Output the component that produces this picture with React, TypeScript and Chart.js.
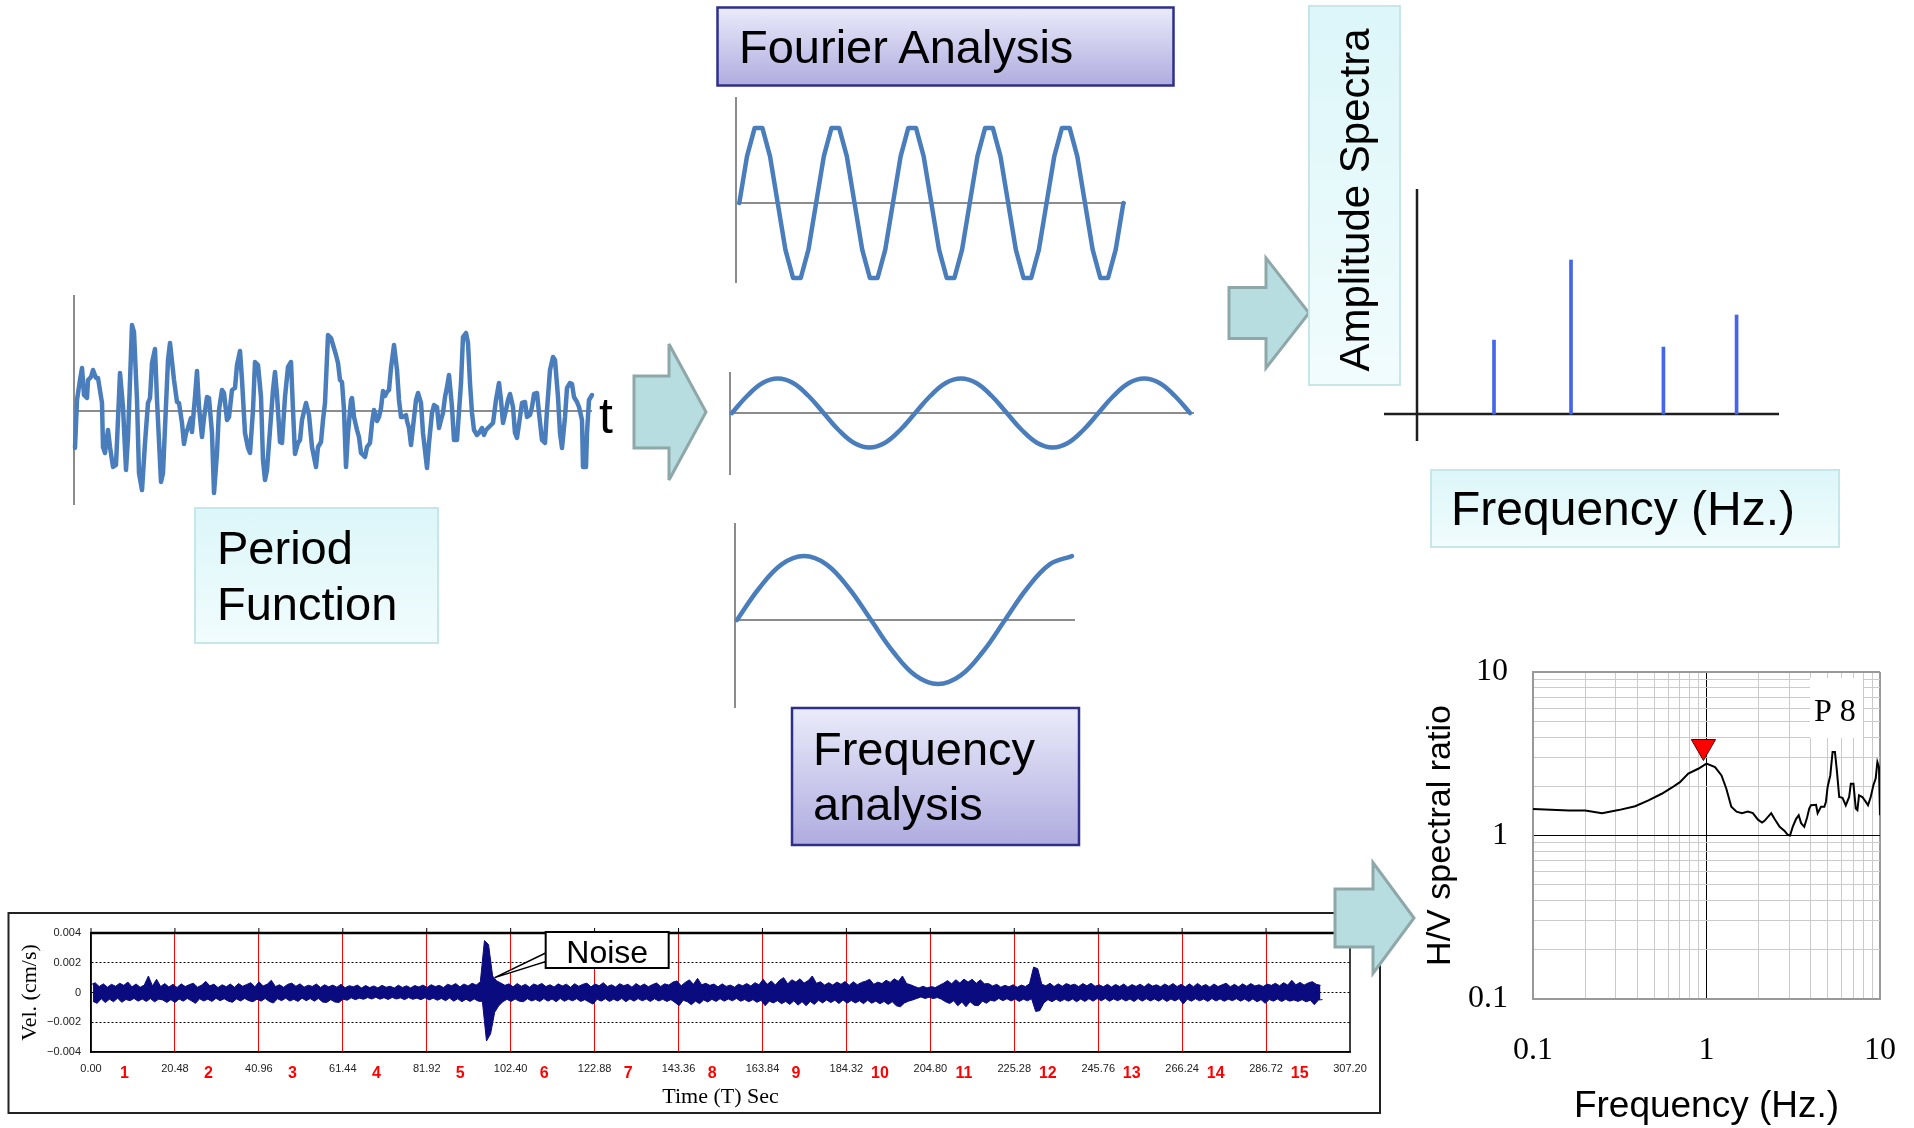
import React, { useEffect, useRef } from "react";
import { Chart, registerables } from "chart.js";

Chart.register(...registerables);

const SANS = "'Liberation Sans', Arial, Helvetica, sans-serif";
const SERIF = "'Liberation Serif', 'Times New Roman', Times, serif";
const WAVE_BLUE = "#4a7dbb";
const AXIS_GRAY = "#8c8c8c";
const SPEC_BLUE = "#4466ea";
const NAVY = "#0b0b80";

// ---------- irregular "period function" record ----------
const periodTime = [
  1, 3, 6, 8, 10, 13, 14, 17, 19, 22, 24, 28, 29, 31, 34, 36, 39, 42, 46, 49,
  52, 54, 58, 60, 63, 65, 68, 71, 74, 76, 78, 81, 83, 87, 89, 94, 96, 100, 103, 105,
  108, 110, 112, 114, 117, 118, 121, 123, 125, 128, 130, 133, 135, 138, 140, 143, 145, 148, 150, 153,
  155, 158, 161, 163, 166, 168, 171, 174, 176, 179, 181, 184, 187, 189, 191, 193, 196, 199, 201, 203,
  206, 208, 211, 214, 217, 219, 221, 224, 226, 228, 232, 235, 238, 242, 244, 247, 249, 251, 254, 257,
  262, 264, 266, 268, 270, 272, 274, 277, 278, 280, 283, 285, 287, 289, 291, 293, 296, 298, 300, 303,
  305, 307, 309, 311, 313, 315, 317, 320, 323, 325, 327, 329, 332, 333, 335, 337, 339, 342, 344, 347,
  349, 353, 355, 358, 360, 363, 365, 367, 369, 371, 373, 375, 378, 380, 383, 387, 389, 392, 394, 396,
  398, 400, 403, 405, 408, 410, 412, 414, 417, 419, 422, 425, 427, 429, 432, 434, 436, 439, 441, 443,
  446, 448, 451, 453, 456, 458, 460, 463, 465, 468, 471, 473, 476, 479, 481, 484, 486, 488, 491, 493,
  496, 498, 500, 503, 505, 508, 509, 512, 513, 515, 518,
];
const periodAmp = [
  -37, 11, 31, 43, 16, 13, 31, 34, 41, 33, 33, 8, -36, -42, -19, -36, -56, -54, 38, 4,
  -59, -26, 86, 79, 11, -62, -79, -32, 8, 13, 48, 62, 11, -71, -62, 51, 68, 31, 9, 8,
  -12, -33, -22, -17, -7, -21, 14, 40, 4, -26, -7, 14, 13, -22, -82, -42, 1, 21, 18, -9,
  -6, 21, 23, 46, 60, 31, -22, -37, -42, 1, 49, 46, 14, -49, -69, -59, -19, 21, 39, 16,
  -31, -32, 14, 44, 49, 1, -43, -32, -29, -9, 8, -4, -36, -56, -36, -31, -9, 8, 76, 73,
  56, 48, 31, 29, 1, -56, -22, 11, 13, -6, -19, -26, -42, -44, -46, -36, -32, -12, 1, -10,
  -6, 3, 20, 15, 19, 21, 43, 66, 41, 11, -6, -6, -4, -10, -17, -34, -16, 11, 18, 8,
  -22, -57, -32, -2, 6, 4, -17, -9, -2, 14, 24, 36, 4, -29, -29, 28, 74, 78, 68, 28,
  -2, -19, -24, -22, -17, -24, -19, -17, -14, -12, 11, 28, 11, -12, 1, 11, 17, 4, -22, -27,
  -6, 8, 9, -6, -4, 4, 17, 18, -2, -29, -32, 1, 41, 54, 51, 14, -22, -37, -6, 23,
  28, 27, 14, 9, 4, -9, -56, -56, -22, 11, 16,
];

// ---------- component sinusoids ----------
const fastWave = [
  0, 0.59, 0.95, 0.95, 0.59, 0, -0.59, -0.95, -0.95, -0.59,
  0, 0.59, 0.95, 0.95, 0.59, 0, -0.59, -0.95, -0.95, -0.59,
  0, 0.59, 0.95, 0.95, 0.59, 0, -0.59, -0.95, -0.95, -0.59,
  0, 0.59, 0.95, 0.95, 0.59, 0, -0.59, -0.95, -0.95, -0.59,
  0, 0.59, 0.95, 0.95, 0.59, 0, -0.59, -0.95, -0.95, -0.59,
  0,
];
const midWave = [
  0, 0.5, 0.87, 1, 0.87, 0.5, 0, -0.5, -0.87, -1, -0.87, -0.5,
  0, 0.5, 0.87, 1, 0.87, 0.5, 0, -0.5, -0.87, -1, -0.87, -0.5,
  0, 0.5, 0.87, 1, 0.87, 0.5, 0,
];
const slowWave = [0, 0.5, 0.87, 1, 0.87, 0.5, 0, -0.5, -0.87, -1, -0.87, -0.5, 0, 0.5, 0.87, 1];

// ---------- amplitude spectrum ----------
const spectrumFreq = [1.0, 2.0, 3.2, 4.15];
const spectrumAmp = [0.48, 1.0, 0.435, 0.643];

// ---------- microtremor velocity record: positive / negative swing in each second (units of 1e-5 cm/s) ----------
const velStep = 1;
const velUnit = 1e-5;
const velUpper = [
  52, 66, 40, 58, 36, 55, 42, 62, 48, 70, 38, 57, 35, 50, 111, 44, 89, 40, 60, 37,
  55, 34, 58, 40, 53, 62, 36, 50, 75, 45, 56, 33, 52, 39, 57, 35, 60, 42, 54, 66,
  38, 72, 44, 56, 82, 40, 52, 35, 55, 63, 42, 58, 36, 49, 41, 57, 34, 52, 38, 50,
  36, 55, 32, 46, 38, 50, 30, 47, 33, 44, 31, 48, 35, 42, 30, 49, 34, 45, 31, 47,
  37, 50, 34, 52, 40, 48, 33, 55, 46, 60, 38, 57, 44, 62, 50, 72, 349, 322, 111, 78,
  64, 48, 58, 38, 60, 42, 55, 36, 57, 47, 61, 40, 52, 37, 58, 44, 56, 35, 59, 42,
  55, 63, 38, 57, 45, 66, 40, 52, 37, 59, 46, 55, 36, 60, 42, 57, 39, 53, 64, 41,
  58, 50, 70, 78, 45, 68, 85, 55, 95, 52, 62, 48, 57, 38, 58, 41, 50, 36, 56, 45,
  60, 44, 66, 52, 89, 55, 78, 50, 82, 100, 58, 86, 70, 92, 64, 80, 111, 62, 72, 50,
  66, 50, 70, 55, 74, 48, 72, 52, 68, 76, 89, 55, 70, 60, 82, 68, 92, 75, 111, 60,
  52, 40, 30, 42, 31, 40, 33, 48, 62, 80, 58, 86, 64, 90, 70, 89, 62, 85, 58, 60,
  44, 55, 36, 48, 38, 52, 35, 50, 40, 58, 171, 160, 55, 45, 62, 40, 58, 42, 60, 48,
  56, 40, 60, 45, 62, 42, 52, 38, 55, 37, 54, 40, 57, 36, 53, 41, 56, 38, 60, 43,
  52, 38, 57, 42, 60, 40, 55, 37, 58, 39, 61, 41, 54, 36, 57, 40, 52, 62, 39, 55,
  38, 58, 42, 60, 44, 52, 40, 57, 48, 62, 45, 66, 50, 82, 52, 68, 50, 64, 73, 55,
  48,
];
const velLower = [
  -60, -73, -42, -68, -45, -62, -38, -66, -47, -55, -40, -58, -44, -60, -41, -63, -45, -50, -67, -48,
  -67, -44, -58, -40, -56, -73, -42, -57, -45, -60, -39, -55, -42, -58, -66, -43, -57, -40, -55, -62,
  -45, -58, -40, -60, -71, -42, -55, -38, -57, -46, -60, -38, -55, -41, -58, -40, -64, -67, -48, -64,
  -67, -45, -52, -36, -48, -38, -46, -34, -44, -32, -45, -35, -47, -33, -44, -36, -48, -34, -46, -38,
  -48, -35, -50, -38, -52, -40, -55, -37, -58, -42, -62, -45, -60, -43, -58, -60, -326, -278, -133, -89,
  -62, -46, -60, -44, -58, -62, -42, -57, -47, -60, -41, -58, -44, -62, -40, -59, -45, -56, -42, -60,
  -48, -64, -78, -45, -58, -42, -60, -45, -57, -40, -62, -43, -58, -41, -56, -44, -60, -42, -57, -46,
  -60, -48, -67, -89, -52, -62, -82, -58, -75, -50, -64, -46, -60, -42, -58, -44, -56, -40, -59, -47,
  -62, -48, -66, -52, -89, -58, -70, -55, -75, -60, -80, -56, -85, -62, -89, -60, -80, -52, -70, -50,
  -68, -52, -74, -50, -72, -54, -70, -56, -75, -52, -72, -58, -76, -60, -80, -62, -89, -96, -70, -58,
  -50, -40, -30, -40, -32, -41, -34, -45, -62, -74, -56, -89, -64, -96, -62, -85, -89, -58, -72, -52,
  -58, -40, -55, -42, -57, -44, -60, -45, -56, -42, -127, -122, -70, -48, -62, -45, -60, -46, -58, -44,
  -62, -44, -60, -42, -58, -41, -56, -40, -59, -43, -55, -42, -57, -44, -60, -41, -58, -42, -57, -43,
  -58, -42, -60, -44, -57, -41, -78, -45, -58, -42, -56, -44, -60, -41, -57, -43, -59, -45, -55, -42,
  -58, -44, -60, -43, -62, -48, -73, -47, -58, -44, -61, -46, -58, -50, -60, -48, -63, -52, -82, -50,
  -48,
];
const timeTickStep = 20.48;
const timeMax = 307.2;
const velTickLabels = ["\u22120.004", "\u22120.002", "0", "0.002", "0.004"];
const segmentLabels = ["1", "2", "3", "4", "5", "6", "7", "8", "9", "10", "11", "12", "13", "14", "15"];
const noiseAt = { x: 98.5, y: 0.001 };

// ---------- H/V spectral ratio, station P 8 ----------
const hvFreq = [
  0.1, 0.161, 0.2, 0.25, 0.311, 0.388, 0.463, 0.552, 0.63, 0.703, 0.785, 0.896, 1.0, 1.12, 1.22, 1.3, 1.39,
  1.49, 1.6, 1.73, 1.85, 1.98, 2.09, 2.16, 2.36, 2.47, 2.64, 2.81, 2.94, 3.03, 3.14, 3.28, 3.4, 3.51,
  3.66, 3.8, 3.91, 4.0, 4.28, 4.37, 4.57, 4.78, 4.88, 4.99, 5.17, 5.33, 5.5, 5.64, 5.82, 6.08, 6.35,
  6.64, 6.79, 7.03, 7.25, 7.41, 7.57, 7.91, 8.27, 8.53, 8.84, 9.16, 9.44, 9.66, 9.87, 10.0,
];
const hvRatio = [
  1.45, 1.42, 1.42, 1.37, 1.43, 1.51, 1.64, 1.8, 1.96, 2.12, 2.39, 2.56, 2.75, 2.62, 2.33, 1.94, 1.5,
  1.4, 1.37, 1.4, 1.37, 1.25, 1.2, 1.23, 1.37, 1.26, 1.13, 1.07, 1.01, 1.0, 1.13, 1.26, 1.33, 1.19,
  1.13, 1.29, 1.46, 1.53, 1.54, 1.37, 1.5, 1.5, 1.61, 1.98, 2.33, 3.24, 3.24, 2.5, 1.72, 1.7, 1.53,
  1.72, 2.07, 2.07, 1.46, 1.43, 1.76, 1.72, 1.61, 1.53, 1.72, 2.03, 2.23, 2.81, 2.62, 1.33,
];
const hvPeak = [{ x: 0.96, y: 3.5 }];
const hvTickLabels = ["0.1", "1", "10"];
const stationName = "P 8";

// ---------- plugins ----------
const crossAxes = {
  id: "crossAxes",
  beforeDatasetsDraw(chart: any, _args: any, opts: any) {
    const { ctx, chartArea: a, scales } = chart;
    const vx = opts.verticalAt === undefined ? a.left : scales.x.getPixelForValue(opts.verticalAt);
    const hy = scales.y.getPixelForValue(0);
    ctx.save();
    ctx.strokeStyle = opts.color;
    ctx.lineWidth = opts.width;
    ctx.beginPath();
    ctx.moveTo(vx, a.top);
    ctx.lineTo(vx, a.bottom);
    ctx.stroke();
    ctx.beginPath();
    ctx.moveTo(a.left, hy);
    ctx.lineTo(a.right, hy);
    ctx.stroke();
    ctx.restore();
  },
};

const seismoFrame = {
  id: "seismoFrame",
  afterDatasetsDraw(chart: any) {
    const { ctx, chartArea: a, scales } = chart;
    const x = scales.x;
    const y = scales.y;
    ctx.save();
    ctx.strokeStyle = "#000";
    ctx.lineWidth = 1.5;
    ctx.strokeRect(a.left, a.top, a.right - a.left, a.bottom - a.top);
    ctx.lineWidth = 2.5;
    ctx.beginPath();
    ctx.moveTo(a.left, a.top);
    ctx.lineTo(a.right, a.top);
    ctx.stroke();
    ctx.lineWidth = 1;
    for (const t of x.ticks) {
      const px = x.getPixelForValue(t.value);
      ctx.beginPath();
      ctx.moveTo(px, a.top - 5);
      ctx.lineTo(px, a.top);
      ctx.stroke();
    }
    ctx.fillStyle = "#ff0000";
    ctx.font = `bold 16px ${SANS}`;
    ctx.textAlign = "center";
    ctx.textBaseline = "middle";
    segmentLabels.forEach((s, i) => {
      ctx.fillText(s, x.getPixelForValue((i + 0.4) * timeTickStep), a.bottom + 22);
    });
    // callout
    const tipX = x.getPixelForValue(noiseAt.x);
    const tipY = y.getPixelForValue(noiseAt.y);
    const bx = tipX + 51;
    const by = a.top - 1;
    const bw = 123;
    const bh = 36;
    ctx.fillStyle = "#fff";
    ctx.strokeStyle = "#000";
    ctx.lineWidth = 1.5;
    ctx.beginPath();
    ctx.moveTo(bx + 2, by + 20);
    ctx.lineTo(tipX, tipY);
    ctx.lineTo(bx + 2, by + 29);
    ctx.closePath();
    ctx.fill();
    ctx.stroke();
    ctx.lineWidth = 2;
    ctx.fillRect(bx, by, bw, bh);
    ctx.strokeRect(bx, by, bw, bh);
    ctx.fillStyle = "#000";
    ctx.font = `32px ${SANS}`;
    ctx.textAlign = "center";
    ctx.textBaseline = "alphabetic";
    ctx.fillText("Noise", bx + bw / 2, by + 31);
    ctx.restore();
  },
};

const stationTag = {
  id: "stationTag",
  beforeDatasetsDraw(chart: any) {
    const { ctx, chartArea: a } = chart;
    ctx.save();
    ctx.fillStyle = "#fff";
    ctx.fillRect(a.right - 70, a.top + 6, 53, 60);
    ctx.fillStyle = "#000";
    ctx.font = `32px ${SERIF}`;
    ctx.textAlign = "left";
    ctx.textBaseline = "alphabetic";
    ctx.fillText(stationName, a.right - 66, a.top + 49);
    ctx.restore();
  },
};

// ---------- chart configs ----------
const baseOptions = (padding: any) => ({
  animation: false,
  responsive: false,
  events: [],
  layout: { padding },
  plugins: { legend: { display: false }, tooltip: { enabled: false } },
});

const waveConfig = (
  values: number[],
  xMin: number,
  xMax: number,
  yMin: number,
  yMax: number,
  tension: number
) => () => {
  const o: any = baseOptions({ left: 10, right: 10, top: 10, bottom: 10 });
  o.plugins.crossAxes = { color: AXIS_GRAY, width: 2 };
  o.scales = {
    x: { type: "linear", display: false, min: xMin, max: xMax },
    y: { display: false, min: yMin, max: yMax },
  };
  return {
    type: "line",
    data: {
      datasets: [
        {
          data: values.map((v, i) => ({ x: i, y: v })),
          borderColor: WAVE_BLUE,
          borderWidth: 4.5,
          pointRadius: 0,
          tension,
          borderJoinStyle: "round",
          borderCapStyle: "round",
          clip: false,
        },
      ],
    },
    options: o,
    plugins: [crossAxes],
  };
};

const periodConfig = () => {
  const o: any = baseOptions({ left: 20, right: 22, top: 10, bottom: 10 });
  o.plugins.crossAxes = { color: AXIS_GRAY, width: 2 };
  o.scales = {
    x: { type: "linear", display: false, min: 0, max: 518 },
    y: { display: false, min: -94, max: 116 },
  };
  return {
    type: "line",
    data: {
      datasets: [
        {
          data: periodTime.map((t, i) => ({ x: t, y: periodAmp[i] })),
          borderColor: WAVE_BLUE,
          borderWidth: 4.5,
          pointRadius: 0,
          tension: 0,
          borderJoinStyle: "round",
          borderCapStyle: "round",
          clip: false,
        },
      ],
    },
    options: o,
    plugins: [crossAxes],
  };
};

const spectrumConfig = () => {
  const o: any = baseOptions({ left: 10, right: 10, top: 10, bottom: 10 });
  o.plugins.crossAxes = { color: "#1e1e1e", width: 2.5, verticalAt: 0 };
  o.scales = {
    x: { type: "linear", display: false, min: -0.4286, max: 4.701, offset: false },
    y: { display: false, min: -0.175, max: 1.461 },
  };
  return {
    type: "bar",
    data: {
      datasets: [
        {
          data: spectrumFreq.map((f, i) => ({ x: f, y: spectrumAmp[i] })),
          backgroundColor: SPEC_BLUE,
          barThickness: 3,
        },
      ],
    },
    options: o,
    plugins: [crossAxes],
  };
};

const seismoConfig = () => {
  const o: any = baseOptions({ left: 0, right: 40, top: 28, bottom: 0 });
  o.scales = {
    x: {
      type: "linear",
      min: 0,
      max: timeMax,
      afterFit: (s: any) => {
        s.height = 68;
      },
      ticks: {
        stepSize: timeTickStep,
        autoSkip: false,
        maxRotation: 0,
        padding: 10,
        color: "#222",
        font: { family: SANS, size: 11 },
        callback: (v: any) => Number(v).toFixed(2),
      },
      grid: {
        drawTicks: false,
        lineWidth: 1,
        color: (c: any) => {
          const v = c.tick ? c.tick.value : 0;
          return v > 0.01 && v < timeMax - 0.01 ? "#ff0000" : "rgba(0,0,0,0)";
        },
      },
      border: { display: true, color: "#000", width: 1.5 },
      title: {
        display: true,
        text: "Time (T) Sec",
        color: "#000",
        font: { family: SERIF, size: 22 },
        padding: { top: 0, bottom: 10 },
      },
    },
    y: {
      min: -0.004,
      max: 0.004,
      afterFit: (s: any) => {
        s.width = 91;
      },
      ticks: {
        stepSize: 0.002,
        padding: 10,
        color: "#222",
        font: { family: SANS, size: 11 },
        callback: (v: any) => velTickLabels[Math.round(Number(v) / 0.002) + 2] ?? "",
      },
      grid: {
        drawTicks: false,
        lineWidth: 1,
        color: (c: any) => {
          const v = c.tick ? c.tick.value : 0;
          return Math.abs(v) < 0.0039 ? "#000" : "rgba(0,0,0,0)";
        },
      },
      border: { display: true, color: "#000", width: 1.5, dash: [2, 2] },
      title: {
        display: true,
        text: "Vel. (cm/s)",
        color: "#000",
        font: { family: SERIF, size: 22 },
        padding: { top: 17, bottom: 0 },
      },
    },
  };
  return {
    type: "line",
    data: {
      datasets: [
        {
          // positive swing at the start of each second
          data: velUpper.map((v, i) => ({ x: i * velStep, y: v * velUnit })),
          borderColor: NAVY,
          backgroundColor: NAVY,
          borderWidth: 1,
          pointRadius: 0,
          tension: 0,
          fill: "+1",
        },
        {
          // negative swing half a second later
          data: velLower.map((v, i) => ({ x: (i + 0.5) * velStep, y: v * velUnit })),
          borderColor: NAVY,
          borderWidth: 1,
          pointRadius: 0,
          tension: 0,
          fill: false,
        },
      ],
    },
    options: o,
    plugins: [seismoFrame],
  };
};

const near = (a: number, b: number) => Math.abs(a - b) < 1e-9 * Math.max(1, Math.abs(b));
const onLogStep = (v: number) => {
  const e = Math.floor(Math.log10(v) + 1e-9);
  const s = v / Math.pow(10, e);
  return Math.abs(s - Math.round(s)) < 1e-6;
};
const hvGridColor = (c: any) => {
  const v = c.tick ? c.tick.value : 1;
  if (near(v, 1)) return "#000";
  if (near(v, 0.1) || near(v, 10)) return "#999";
  return onLogStep(v) ? "#cbcbcb" : "rgba(0,0,0,0)";
};
const hvGridWidth = (c: any) => {
  const v = c.tick ? c.tick.value : 1;
  return near(v, 0.1) || near(v, 10) ? 2 : 1;
};
const hvLabel = (v: any) => hvTickLabels.find((l) => near(Number(v), Number(l))) ?? "";

const hvConfig = () => {
  const o: any = baseOptions({ left: 0, right: 50, top: 52, bottom: 0 });
  o.scales = {
    x: {
      type: "logarithmic",
      min: 0.1,
      max: 10,
      afterFit: (s: any) => {
        s.height = 141;
      },
      ticks: {
        autoSkip: false,
        maxRotation: 0,
        padding: 32,
        color: "#000",
        font: { family: SERIF, size: 32 },
        callback: hvLabel,
      },
      grid: { drawTicks: false, color: hvGridColor, lineWidth: hvGridWidth },
      border: { display: true, color: "#999", width: 2 },
      title: {
        display: true,
        text: "Frequency (Hz.)",
        color: "#000",
        font: { family: SANS, size: 37 },
        padding: { top: 0, bottom: 11 },
      },
    },
    y: {
      type: "logarithmic",
      min: 0.1,
      max: 10,
      afterFit: (s: any) => {
        s.width = 133;
      },
      ticks: {
        autoSkip: false,
        padding: 25,
        color: "#000",
        font: { family: SERIF, size: 32 },
        callback: hvLabel,
      },
      grid: { drawTicks: false, color: hvGridColor, lineWidth: hvGridWidth },
      border: { display: true, color: "#999", width: 2 },
      title: {
        display: true,
        text: "H/V spectral ratio",
        color: "#000",
        font: { family: SANS, size: 34 },
        padding: { top: 20, bottom: 0 },
      },
    },
  };
  return {
    type: "line",
    data: {
      datasets: [
        {
          data: hvPeak,
          showLine: false,
          pointStyle: "triangle",
          pointRotation: 180,
          pointRadius: 14,
          pointBackgroundColor: "#ff0000",
          pointBorderColor: "#5a0000",
          pointBorderWidth: 1,
        },
        {
          data: hvFreq.map((f, i) => ({ x: f, y: hvRatio[i] })),
          borderColor: "#000",
          borderWidth: 2,
          pointRadius: 0,
          tension: 0,
        },
      ],
    },
    options: o,
    plugins: [stationTag],
  };
};

// ---------- components ----------
function ChartBox(props: { left: number; top: number; width: number; height: number; make: () => any }) {
  const ref = useRef<HTMLCanvasElement>(null);
  useEffect(() => {
    const chart = new Chart(ref.current as HTMLCanvasElement, props.make());
    return () => chart.destroy();
  }, []);
  return (
    <canvas
      ref={ref}
      width={props.width}
      height={props.height}
      style={{ position: "absolute", left: props.left, top: props.top, width: props.width, height: props.height }}
    />
  );
}

const arrowPath = (x0: number, xh: number, xt: number, cy: number, shaftHalf: number, headHalf: number) =>
  [
    [x0, cy - shaftHalf],
    [xh, cy - shaftHalf],
    [xh, cy - headHalf],
    [xt, cy],
    [xh, cy + headHalf],
    [xh, cy + shaftHalf],
    [x0, cy + shaftHalf],
  ]
    .map((p) => p.join(","))
    .join(" ");

export default function App() {
  const svgStyle: any = { position: "absolute", left: 0, top: 0, pointerEvents: "none" };
  return (
    <div
      style={{
        position: "absolute",
        left: 0,
        top: 0,
        width: 1914,
        height: 1128,
        overflow: "hidden",
        background: "#fff",
      }}
    >
      <svg width={1914} height={1128} style={svgStyle}>
        <rect x={8.5} y={913} width={1371.5} height={200} fill="#fff" stroke="#222" strokeWidth={2} />
      </svg>

      <ChartBox left={54} top={285} width={560} height={230} make={periodConfig} />
      <ChartBox left={726} top={87} width={410} height={206} make={waveConfig(fastWave, -0.43, 50.34, -1.013, 1.342, 0)} />
      <ChartBox left={720} top={362} width={484} height={123} make={waveConfig(midWave, -0.131, 30.262, -1.797, 1.188, 0.4)} />
      <ChartBox left={725} top={513} width={360} height={205} make={waveConfig(slowWave, -0.09, 15.134, -1.375, 1.516, 0.4)} />
      <ChartBox left={1374} top={179} width={415} height={272} make={spectrumConfig} />
      <ChartBox left={0} top={905} width={1390} height={215} make={seismoConfig} />
      <ChartBox left={1400} top={620} width={530} height={520} make={hvConfig} />

      <svg width={1914} height={1128} style={svgStyle} fontFamily={SANS}>
        <defs>
          <linearGradient id="lavender" x1="0" y1="0" x2="0" y2="1">
            <stop offset="0" stopColor="#eaebfa" />
            <stop offset="1" stopColor="#afacdf" />
          </linearGradient>
          <linearGradient id="aqua" x1="0" y1="0" x2="0" y2="1">
            <stop offset="0" stopColor="#dcf6f9" />
            <stop offset="1" stopColor="#f1fcfd" />
          </linearGradient>
        </defs>

        <g fill="#b7dde0" stroke="#8ea7a8" strokeWidth={3}>
          <polygon points={arrowPath(634, 669, 706, 412, 36, 68)} />
          <polygon points={arrowPath(1229, 1266, 1309, 313, 25.5, 55)} />
          <polygon points={arrowPath(1335, 1373, 1414, 918, 29, 55.5)} />
        </g>

        <rect x={717.5} y={7.5} width={456} height={78} fill="url(#lavender)" stroke="#2e2f8c" strokeWidth={2.5} />
        <text x={739} y={63} fontSize={47} fill="#000">Fourier Analysis</text>

        <rect x={792} y={708} width={287} height={137} fill="url(#lavender)" stroke="#2e2f8c" strokeWidth={2.5} />
        <text x={813} y={765} fontSize={47} fill="#000">Frequency</text>
        <text x={813} y={820} fontSize={47} fill="#000">analysis</text>

        <rect x={195} y={508} width={243} height={135} fill="url(#aqua)" stroke="#c6e6ea" strokeWidth={2} />
        <text x={217} y={564} fontSize={47} fill="#000">Period</text>
        <text x={217} y={620} fontSize={47} fill="#000">Function</text>

        <rect x={1309} y={6} width={91} height={379} fill="url(#aqua)" stroke="#c6e6ea" strokeWidth={2} />
        <text transform="translate(1369,200) rotate(-90)" textAnchor="middle" fontSize={42} fill="#000">
          Amplitude Spectra
        </text>

        <rect x={1431} y={470} width={408} height={77} fill="url(#aqua)" stroke="#c6e6ea" strokeWidth={2} />
        <text x={1451} y={525} fontSize={48} fill="#000">Frequency (Hz.)</text>

        <text x={599} y={433} fontSize={50} fill="#000">t</text>
      </svg>
    </div>
  );
}
